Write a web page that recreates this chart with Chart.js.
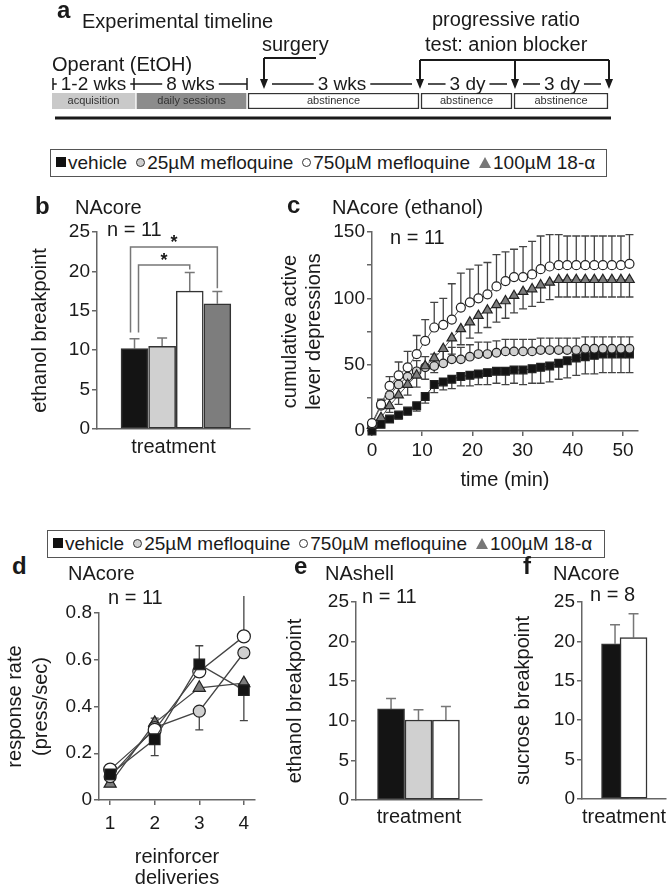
<!DOCTYPE html>
<html>
<head>
<meta charset="utf-8">
<script src="https://cdn.jsdelivr.net/npm/chart.js@4.4.0/dist/chart.umd.min.js"></script>
<style>
  body { margin: 0; width: 667px; height: 889px; overflow: hidden; background: #fff; position: relative;
         font-family: 'Liberation Sans', Arial, Helvetica, sans-serif; color: #1a1a1a; }
  canvas { position: absolute; }
  .t { position: absolute; font-size: 20px; line-height: 22px; white-space: nowrap; }
  .b { font-weight: bold; font-size: 24px; }
  .legend { position: absolute; height: 28px; box-sizing: border-box; border: 1.5px solid #555;
            font-size: 19px; line-height: 25px; padding-left: 5px; white-space: nowrap; }
  .legend .item { margin-right: 9px; }
  .sym { display: inline-block; vertical-align: middle; margin: 0 2px 3px 0; box-sizing: border-box; }
  .sq { width: 10px; height: 10px; background: #111; }
  .ci { width: 9px; height: 9px; border-radius: 50%; border: 1.3px solid #333; }
  .tri { width: 0; height: 0; border-left: 6px solid transparent; border-right: 6px solid transparent; border-bottom: 11px solid #777; }
</style>
</head>
<body>
<canvas id="chartA"></canvas>
<canvas id="chartB"></canvas>
<canvas id="chartC"></canvas>
<canvas id="chartD"></canvas>
<canvas id="chartE"></canvas>
<canvas id="chartF"></canvas>
<div class="legend" id="legend1" style="left:50px;top:149px;width:557px"></div>
<div class="legend" id="legend2" style="left:47px;top:530px;width:558px"></div>
<script>
// ---- data ----
const treatments = ['vehicle', '25µM mefloquine', '750µM mefloquine', '100µM 18-α'];

// a: timeline (schematic units)
const phaseNames = ['acquisition', 'daily sessions', 'abstinence', 'abstinence', 'abstinence'];
const phaseStart = [0, 85, 196, 369, 462];
const phaseEnd = [83, 194, 367, 460, 556];
const durLabels = ['1-2 wks', '8 wks', '3 wks', '3 dy', '3 dy'];
const durFrom = [1, 82, 212, 368, 463];
const durTo = [82, 195, 368, 463, 557];
const stageTicks = [1, 82, 195];
const surgeryAt = 212;
const testAt = [368, 463, 557];

// b: NAcore ethanol breakpoint
const coreBreakpoint = [10.2, 10.5, 17.5, 15.9];
const coreBreakpointSem = [1.25, 1.05, 2.35, 1.55];
const sigPairs = [[1, 3], [1, 4]];
const sigLevels = [20.8, 23.1];

// c: cumulative active lever depressions
const timeMin = [0, 1.8, 3.5, 5.3, 7.1, 8.9, 10.6, 12.4, 14.2, 15.9, 17.7, 19.5, 21.2, 23.0, 24.8,
                 26.6, 28.3, 30.1, 31.9, 33.6, 35.4, 37.2, 38.9, 40.7, 42.5, 44.3, 46.0, 47.8, 49.6, 51.3];
const cumVehicle = [0, 5, 9, 12, 15, 19, 26, 35, 37, 39, 41, 42, 43, 44, 45, 45, 46, 46, 47, 48, 49, 51, 53, 55, 56, 57, 58, 58, 58, 58];
const cum25 = [5, 19, 27, 35, 41, 45, 48, 49, 51, 54, 54, 56, 58, 58, 59, 60, 60, 60, 60, 61, 61, 61, 61, 61, 62, 62, 62, 62, 62, 62];
const cum750 = [6, 20, 34, 42, 48, 58, 68, 78, 80, 84, 93, 97, 100, 103, 109, 113, 116, 116, 118, 122, 124, 125, 125, 125, 125, 125, 125, 125, 125, 126];
const cum18a = [4, 10, 19, 27, 35, 42, 49, 55, 62, 70, 77, 82, 87, 91, 95, 98, 102, 105, 107, 110, 112, 114, 114, 114, 114, 114, 114, 114, 114, 114];
const cumVehicleSem = [-1, -2, -2, -3, -3, -4, -5, -6, -6, -7, -7, -8, -8, -9, -9, -10, -10, -11, -11, -12, -12, -12, -13, -13, -13, -14, -14, -14, -14, -14];
const cum25Sem = [2, 4, 5, 6, 7, 8, 8, 9, 9, 9, 9, 9, 9, 9, 9, 9, 9, 9, 9, 9, 9, 9, 9, 9, 9, 9, 9, 9, 9, 9];
const cum750Sem = [2, 4, 7, 10, 12, 14, 16, 19, 20, 27, 26, 25, 25, 24, 24, 22, 21, 23, 25, 25, 24, 23, 22, 22, 22, 22, 22, 22, 22, 22];
const cum18aSem = [-2, -4, -5, -7, -8, -9, -10, -11, -12, -12, -12, -12, -13, -13, -13, -13, -13, -13, -13, -13, -13, -13, -13, -13, -13, -13, -13, -13, -13, -13];

// d: response rate
const deliveries = [1, 2, 3, 4];
const rateVehicle = [0.11, 0.26, 0.58, 0.47];
const rate25 = [0.10, 0.31, 0.38, 0.63];
const rate750 = [0.13, 0.30, 0.55, 0.70];
const rate18a = [0.07, 0.33, 0.48, 0.50];
const rateVehicleSem = [0, -0.07, 0.08, -0.13];
const rate25Sem = [0, 0, -0.08, 0];
const rate750Sem = [0, 0, 0, 0.19];
const rate18aSem = [0, 0.02, 0, 0];

// e: NAshell ethanol breakpoint
const shellBreakpoint = [11.5, 10.1, 10.1];
const shellBreakpointSem = [1.3, 1.3, 1.7];

// f: NAcore sucrose breakpoint
const sucroseBreakpoint = [19.7, 20.5];
const sucroseBreakpointSem = [2.4, 3.0];

// ---- styles ----
const FONT = "'Liberation Sans', Arial, Helvetica, sans-serif";
const AXIS = '#666';
const fills = ['#141414', '#d0d0d0', '#ffffff', '#7d7d7d'];
const markers = ['rect', 'circle', 'circle', 'triangle'];

Chart.defaults.font.family = FONT;
Chart.defaults.color = '#1a1a1a';
Chart.defaults.animation = false;
Chart.defaults.responsive = false;
Chart.defaults.plugins.legend.display = false;
Chart.defaults.plugins.tooltip.enabled = false;

function setCanvas(id, left, top, right, bottom) {
  const c = document.getElementById(id);
  c.width = right - left;
  c.height = bottom - top;
  c.style.left = left + 'px';
  c.style.top = top + 'px';
  return c;
}

function valueAxis(o) {
  const ticks = { stepSize: o.step, font: { size: 19 }, padding: 2, color: '#1a1a1a' };
  if (o.cb) ticks.callback = o.cb;
  return {
    type: 'linear', min: o.min, max: o.max,
    afterFit: s => { s.width = o.width; },
    ticks,
    grid: { drawOnChartArea: false, tickLength: 5, color: AXIS, lineWidth: 1.5 },
    border: { color: AXIS, width: 1.5 },
    title: { display: true, text: o.title, color: '#1a1a1a',
             font: { size: 20, lineHeight: o.lh || 1.2 }, padding: { top: o.pad, bottom: 0 } }
  };
}

function domainAxis(o) {
  return {
    type: 'linear', min: o.min, max: o.max,
    afterFit: s => { s.height = o.height; },
    ticks: { display: !!o.step, stepSize: o.step || 1, includeBounds: false, font: { size: 19 },
             padding: o.tickPad || 3, maxRotation: 0, autoSkip: false, color: '#1a1a1a' },
    grid: { drawOnChartArea: false, drawTicks: !!o.step, tickLength: 5, color: AXIS, lineWidth: 1.5 },
    border: { color: AXIS, width: 1.5 },
    title: { display: true, text: o.title, color: '#1a1a1a',
             font: { size: 20, lineHeight: o.lh || 1.2 }, padding: { top: 0, bottom: o.pad } }
  };
}

// signed error bars: positive goes up, negative goes down
const errorBars = {
  id: 'errorBars',
  beforeDatasetsDraw(chart) {
    const { ctx, scales: { x, y } } = chart;
    chart.data.datasets.forEach(ds => {
      if (!ds.errors) return;
      ctx.save();
      ctx.strokeStyle = ds.errorColor || '#444';
      ctx.lineWidth = ds.errorWidth || 1.3;
      ds.data.forEach((p, i) => {
        const e = ds.errors[i];
        if (!e) return;
        const px = x.getPixelForValue(p.x);
        const y0 = y.getPixelForValue(p.y);
        const y1 = y.getPixelForValue(p.y + e);
        const cap = ds.capWidth || 4;
        ctx.beginPath();
        ctx.moveTo(px, y0); ctx.lineTo(px, y1);
        ctx.moveTo(px - cap, y1); ctx.lineTo(px + cap, y1);
        ctx.stroke();
      });
      ctx.restore();
    });
  }
};

function pts(xs, ys) { return xs.map((v, i) => ({ x: v, y: ys[i] })); }

// ---- a: timeline ----
const timeline = {
  id: 'timeline',
  afterDatasetsDraw(chart) {
    const { ctx, scales: { x } } = chart;
    const px = u => x.getPixelForValue(u);
    const rowY = 84, tipY = 89;
    const arrows = [surgeryAt].concat(testAt);
    ctx.save();
    ctx.textAlign = 'center';
    ctx.textBaseline = 'middle';
    ctx.font = '11px ' + FONT;
    ctx.fillStyle = '#333';
    phaseNames.forEach((n, i) => ctx.fillText(n, px((phaseStart[i] + phaseEnd[i]) / 2), 101));

    ctx.font = '19px ' + FONT;
    ctx.fillStyle = '#1a1a1a';
    ctx.strokeStyle = '#1a1a1a';
    ctx.lineWidth = 1.5;
    durLabels.forEach((lab, i) => {
      const a = px(durFrom[i]) + (arrows.includes(durFrom[i]) ? 8 : 0);
      const b = px(durTo[i]) - (arrows.includes(durTo[i]) ? 8 : 0);
      const c = (px(durFrom[i]) + px(durTo[i])) / 2;
      const w = ctx.measureText(lab).width;
      ctx.fillText(lab, c, rowY + 1);
      ctx.beginPath();
      if (c - w / 2 - 4 > a) { ctx.moveTo(a, rowY); ctx.lineTo(c - w / 2 - 4, rowY); }
      if (c + w / 2 + 4 < b) { ctx.moveTo(c + w / 2 + 4, rowY); ctx.lineTo(b, rowY); }
      ctx.stroke();
    });
    stageTicks.forEach(u => {
      ctx.beginPath(); ctx.moveTo(px(u), rowY - 6); ctx.lineTo(px(u), rowY + 6); ctx.stroke();
    });

    // arrows
    const arrow = (u, fromY) => {
      const xx = px(u);
      ctx.beginPath(); ctx.moveTo(xx, fromY); ctx.lineTo(xx, tipY - 6); ctx.stroke();
      ctx.beginPath(); ctx.moveTo(xx - 4, tipY - 10); ctx.lineTo(xx + 4, tipY - 10); ctx.lineTo(xx, tipY); ctx.closePath(); ctx.fill();
    };
    ctx.lineWidth = 2;
    ctx.beginPath(); ctx.moveTo(px(264), 58); ctx.lineTo(px(surgeryAt), 58); ctx.stroke();
    arrow(surgeryAt, 58);
    ctx.beginPath(); ctx.moveTo(px(testAt[0]), 60); ctx.lineTo(px(testAt[testAt.length - 1]), 60); ctx.stroke();
    testAt.forEach(u => arrow(u, 60));

    ctx.lineWidth = 3;
    ctx.beginPath(); ctx.moveTo(px(3), 118); ctx.lineTo(px(559), 118); ctx.stroke();
    ctx.restore();
  }
};

const phaseFill = ['#c9c9c9', '#8c8c8c', '#ffffff', '#ffffff', '#ffffff'];
new Chart(setCanvas('chartA', 0, 0, 667, 130), {
  type: 'bar',
  data: {
    labels: ['phase'],
    datasets: phaseNames.map((n, i) => ({
      label: n,
      data: [[phaseStart[i], phaseEnd[i]]],
      backgroundColor: phaseFill[i],
      borderColor: '#333',
      borderWidth: i < 2 ? 0 : 1.5,
      borderSkipped: false,
      barThickness: 16,
      grouped: false
    }))
  },
  options: {
    indexAxis: 'y',
    layout: { padding: { left: 52, right: 55, top: 93, bottom: 21 } },
    scales: {
      x: { type: 'linear', min: 0, max: 560, display: false },
      y: { display: false }
    }
  },
  plugins: [timeline]
});

// ---- b ----
const brackets = {
  id: 'brackets',
  afterDatasetsDraw(chart) {
    const { ctx, scales: { x, y } } = chart;
    ctx.save();
    ctx.strokeStyle = '#777';
    ctx.lineWidth = 1.5;
    ctx.fillStyle = '#1a1a1a';
    ctx.font = 'bold 18px ' + FONT;
    ctx.textAlign = 'center';
    ctx.textBaseline = 'alphabetic';
    sigPairs.forEach((pair, k) => {
      const [a, b] = pair;
      const inner = k === 0;
      const xa = x.getPixelForValue(a) + (inner ? 4 : -4);
      const xb = x.getPixelForValue(b);
      const yl = y.getPixelForValue(sigLevels[k]);
      const ya = y.getPixelForValue(coreBreakpoint[a - 1] + coreBreakpointSem[a - 1] + 0.8);
      const yb = y.getPixelForValue(coreBreakpoint[b - 1] + coreBreakpointSem[b - 1] + 0.4);
      ctx.beginPath();
      ctx.moveTo(xa, ya); ctx.lineTo(xa, yl); ctx.lineTo(xb, yl); ctx.lineTo(xb, yb);
      ctx.stroke();
      ctx.fillText('*', (xa + xb) / 2, yl + 1);
    });
    ctx.restore();
  }
};

new Chart(setCanvas('chartB', 16, 215, 260, 462), {
  type: 'bar',
  data: {
    datasets: [{
      data: pts([1, 2, 3, 4], coreBreakpoint),
      errors: coreBreakpointSem,
      capWidth: 5, errorColor: '#777', errorWidth: 1.5,
      backgroundColor: fills,
      borderColor: '#333', borderWidth: 1.5, borderSkipped: false,
      barThickness: 27
    }]
  },
  options: {
    layout: { padding: { left: 0, top: 17, right: 10, bottom: 0 } },
    scales: {
      x: domainAxis({ min: 0.334, max: 4.49, height: 33, title: 'treatment', pad: 3 }),
      y: valueAxis({ min: 0, max: 25, step: 5, width: 81, title: 'ethanol breakpoint', pad: 12 })
    }
  },
  plugins: [errorBars, brackets]
});

// ---- c ----
function series(i, xs, ys, errs, r) {
  return {
    label: treatments[i],
    data: pts(xs, ys),
    errors: errs,
    showLine: true,
    borderColor: i === 0 ? '#111' : '#555',
    borderWidth: 1,
    pointStyle: markers[i],
    pointRadius: r[i],
    pointBackgroundColor: fills[i],
    pointBorderColor: '#222',
    pointBorderWidth: 1.2,
    clip: false
  };
}

const rC = [5.5, 4.3, 4.5, 5.5];
new Chart(setCanvas('chartC', 270, 215, 667, 495), {
  type: 'scatter',
  data: {
    datasets: [
      series(2, timeMin, cum750, cum750Sem, rC),
      series(3, timeMin, cum18a, cum18aSem, rC),
      series(1, timeMin, cum25, cum25Sem, rC),
      series(0, timeMin, cumVehicle, cumVehicleSem, rC)
    ]
  },
  options: {
    layout: { padding: { left: 0, top: 17, right: 29, bottom: 0 } },
    scales: {
      x: domainAxis({ min: 0, max: 53, step: 10, height: 64, title: 'time (min)', pad: 3 }),
      y: valueAxis({ min: 0, max: 150, step: 25, width: 102, pad: 8,
                     title: ['cumulative active', 'lever depressions'],
                     cb: v => (v % 50 === 0 ? v : '') })
    }
  },
  plugins: [errorBars]
});

// ---- d ----
const rD = [7.5, 6, 6.5, 7];
new Chart(setCanvas('chartD', 0, 596, 270, 889), {
  type: 'scatter',
  data: {
    datasets: [
      series(0, deliveries, rateVehicle, rateVehicleSem, rD),
      series(2, deliveries, rate750, rate750Sem, rD),
      series(1, deliveries, rate25, rate25Sem, rD),
      series(3, deliveries, rate18a, rate18aSem, rD)
    ].map(d => Object.assign(d, { borderColor: '#444', borderWidth: 1.3 }))
  },
  options: {
    layout: { padding: { left: 0, top: 17, right: 15, bottom: 0 } },
    scales: {
      x: domainAxis({ min: 0.75, max: 4.25, step: 1, height: 89, tickPad: 7, lh: 1.05,
                      title: ['reinforcer', 'deliveries'], pad: 0 }),
      y: valueAxis({ min: 0, max: 0.8, step: 0.2, width: 99, lh: 1.3, pad: 2,
                     title: ['response rate', '(press/sec)'] })
    }
  },
  plugins: [errorBars]
});

// ---- e ----
new Chart(setCanvas('chartE', 280, 586, 495, 832), {
  type: 'bar',
  data: {
    datasets: [{
      data: pts([1, 2, 3], shellBreakpoint),
      errors: shellBreakpointSem,
      capWidth: 5, errorColor: '#777', errorWidth: 1.5,
      backgroundColor: fills.slice(0, 3),
      borderColor: '#333', borderWidth: 1.5, borderSkipped: false,
      barThickness: 27
    }]
  },
  options: {
    layout: { padding: { left: 0, top: 16, right: 13, bottom: 0 } },
    scales: {
      x: domainAxis({ min: 0.488, max: 3.55, height: 32, title: 'treatment', pad: 3 }),
      y: valueAxis({ min: 0, max: 25, step: 5, width: 76, title: 'ethanol breakpoint', pad: 3 })
    }
  },
  plugins: [errorBars]
});

// ---- f ----
new Chart(setCanvas('chartF', 508, 586, 667, 832), {
  type: 'bar',
  data: {
    datasets: [{
      data: pts([1, 2], sucroseBreakpoint),
      errors: sucroseBreakpointSem,
      capWidth: 5, errorColor: '#777', errorWidth: 1.5,
      backgroundColor: [fills[0], fills[2]],
      borderColor: '#333', borderWidth: 1.5, borderSkipped: false,
      barThickness: 27
    }]
  },
  options: {
    layout: { padding: { left: 0, top: 16, right: 1, bottom: 0 } },
    scales: {
      x: domainAxis({ min: 0.35, max: 2.62, height: 33, title: 'treatment', pad: 3 }),
      y: valueAxis({ min: 0, max: 25, step: 5, width: 74, title: 'sucrose breakpoint', pad: 3 })
    }
  },
  plugins: [errorBars]
});

// ---- text ----
function addText(str, x, cy, cls) {
  const d = document.createElement('div');
  d.className = 't' + (cls ? ' ' + cls : '');
  d.textContent = str;
  d.style.left = x + 'px';
  d.style.top = (cy - 11) + 'px';
  document.body.appendChild(d);
}
addText('a', 57, 10, 'b');
addText('Experimental timeline', 82, 21);
addText('progressive ratio', 432, 19);
addText('surgery', 262, 44);
addText('test: anion blocker', 425, 44);
addText('Operant (EtOH)', 52, 64);

addText('b', 35, 206, 'b');
addText('NAcore', 75, 207);
addText('n = 11', 107, 229);
addText('c', 287, 205, 'b');
addText('NAcore (ethanol)', 332, 207);
addText('n = 11', 390, 237);

addText('d', 12, 566, 'b');
addText('NAcore', 68, 573);
addText('n = 11', 108, 597);
addText('e', 294, 566, 'b');
addText('NAshell', 325, 573);
addText('n = 11', 362, 596);
addText('f', 523, 566, 'b');
addText('NAcore', 553, 573);
addText('n = 8', 590, 594);

const symClass = ['sq', 'ci', 'ci', 'tri'];
['legend1', 'legend2'].forEach(id => {
  const box = document.getElementById(id);
  treatments.forEach((name, i) => {
    const item = document.createElement('span');
    item.className = 'item';
    const s = document.createElement('i');
    s.className = 'sym ' + symClass[i];
    if (symClass[i] === 'ci') s.style.background = fills[i];
    item.appendChild(s);
    item.appendChild(document.createTextNode(name));
    box.appendChild(item);
  });
});
</script>
</body>
</html>
